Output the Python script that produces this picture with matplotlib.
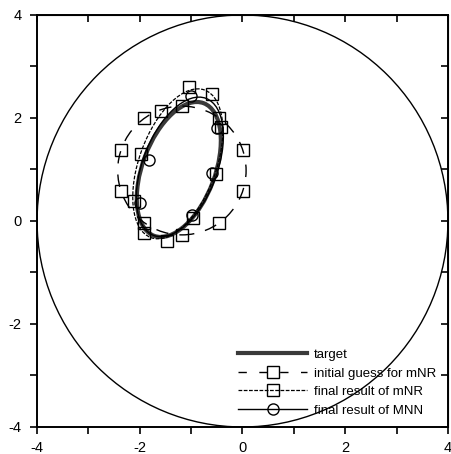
import matplotlib
matplotlib.use('Agg')
import matplotlib.pyplot as plt
from matplotlib.patches import Ellipse, Circle
from matplotlib.lines import Line2D

plt.rcParams['font.family'] = ['Liberation Sans', 'DejaVu Sans']
plt.rcParams['axes.unicode_minus'] = False

# domain boundary
domain_r = 4.0

# target ellipse (center, width, height, angle)
target_c = (-1.24, 1.00)
target_w, target_h, target_ang = 2.75, 1.41, 69.4

# initial guess for mNR (circle + nodes)
guess_c = (-1.18, 0.98)
guess_r = 1.25
guess_x = [0.01, -0.45, -1.18, -1.91, -2.37, -2.37, -1.91, -1.18, -0.45, 0.01]
guess_y = [1.37, 1.99, 2.23, 1.99, 1.37, 0.59, -0.03, -0.27, -0.03, 0.59]

# final result of mNR
mnr_c = (-1.26, 1.11)
mnr_w, mnr_h, mnr_ang = 3.05, 1.50, 70.0
mnr_x = [-1.05, -0.60, -0.42, -0.52, -0.96, -1.47, -1.92, -2.11, -1.98, -1.58]
mnr_y = [2.60, 2.47, 1.82, 0.91, 0.05, -0.38, -0.24, 0.39, 1.30, 2.14]

# final result of MNN
mnn_c = (-1.22, 1.05)
mnn_w, mnn_h, mnn_ang = 2.85, 1.45, 69.0
mnn_x = [-1.00, -0.50, -0.60, -0.99, -2.00, -1.83]
mnn_y = [2.42, 1.80, 0.93, 0.12, 0.35, 1.18]

ticks = [-4, -2, 0, 2, 4]
minor = [-3, -1, 1, 3]

fig = plt.figure(figsize=(4.52, 4.54), dpi=100)
ax = fig.add_axes([0.082, 0.0595, 0.909, 0.9075])

ax.add_patch(Circle((0, 0), domain_r, fill=False, ec='black', lw=1.0))
ax.add_patch(Ellipse(target_c, target_w, target_h, angle=target_ang,
                     fill=False, ec='#3a3a3a', lw=3.0))
ax.add_patch(Circle(guess_c, guess_r, fill=False, ec='black', lw=1.0,
                    ls=(0, (9, 8))))
ax.add_patch(Ellipse(mnr_c, mnr_w, mnr_h, angle=mnr_ang,
                     fill=False, ec='black', lw=0.9, ls=(0, (3, 1.2))))
ax.add_patch(Ellipse(mnn_c, mnn_w, mnn_h, angle=mnn_ang,
                     fill=False, ec='black', lw=1.0))

ax.plot(guess_x, guess_y, 's', ms=8, mfc='none', mec='black', mew=1.0)
ax.plot(mnr_x, mnr_y, 's', ms=8, mfc='none', mec='black', mew=1.0)
ax.plot(mnn_x, mnn_y, 'o', ms=8, mfc='none', mec='black', mew=1.0)

ax.set_xlim(-4, 4)
ax.set_ylim(-4, 4)
ax.set_xticks(ticks)
ax.set_yticks(ticks)
ax.set_xticks(minor, minor=True)
ax.set_yticks(minor, minor=True)
ax.tick_params(which='both', direction='out', length=5, width=1.2,
               labelsize=10.5, top=False, right=False)
ax.tick_params(axis='x', pad=5)
ax.tick_params(axis='y', pad=6)
for s in ax.spines.values():
    s.set_linewidth(1.4)

sx = ax.secondary_xaxis('top')
sx.set_xticks(ticks + minor)
sx.tick_params(direction='in', length=5, width=1.2, labeltop=False)
sy = ax.secondary_yaxis('right')
sy.set_yticks(ticks + minor)
sy.tick_params(direction='in', length=5, width=1.2, labelright=False)

handles = [
    Line2D([], [], color='#3a3a3a', lw=3.0),
    Line2D([], [], color='black', lw=1.0, ls=(0, (6, 9)), marker='s',
           ms=8, mfc='none', mec='black'),
    Line2D([], [], color='black', lw=0.9, ls=(0, (3, 1.2)), marker='s',
           ms=8, mfc='none', mec='black'),
    Line2D([], [], color='black', lw=1.0, marker='o',
           ms=8, mfc='none', mec='black'),
]
labels = ['target', 'initial guess for mNR', 'final result of mNR',
          'final result of MNN']
ax.legend(handles, labels, loc='upper left', bbox_to_anchor=(0.49, 0.19),
          frameon=False, fontsize=9.5, handlelength=5.2, handletextpad=0.5,
          labelspacing=0.48, borderaxespad=0, borderpad=0, numpoints=1)

fig.savefig('out.png', dpi=100)
